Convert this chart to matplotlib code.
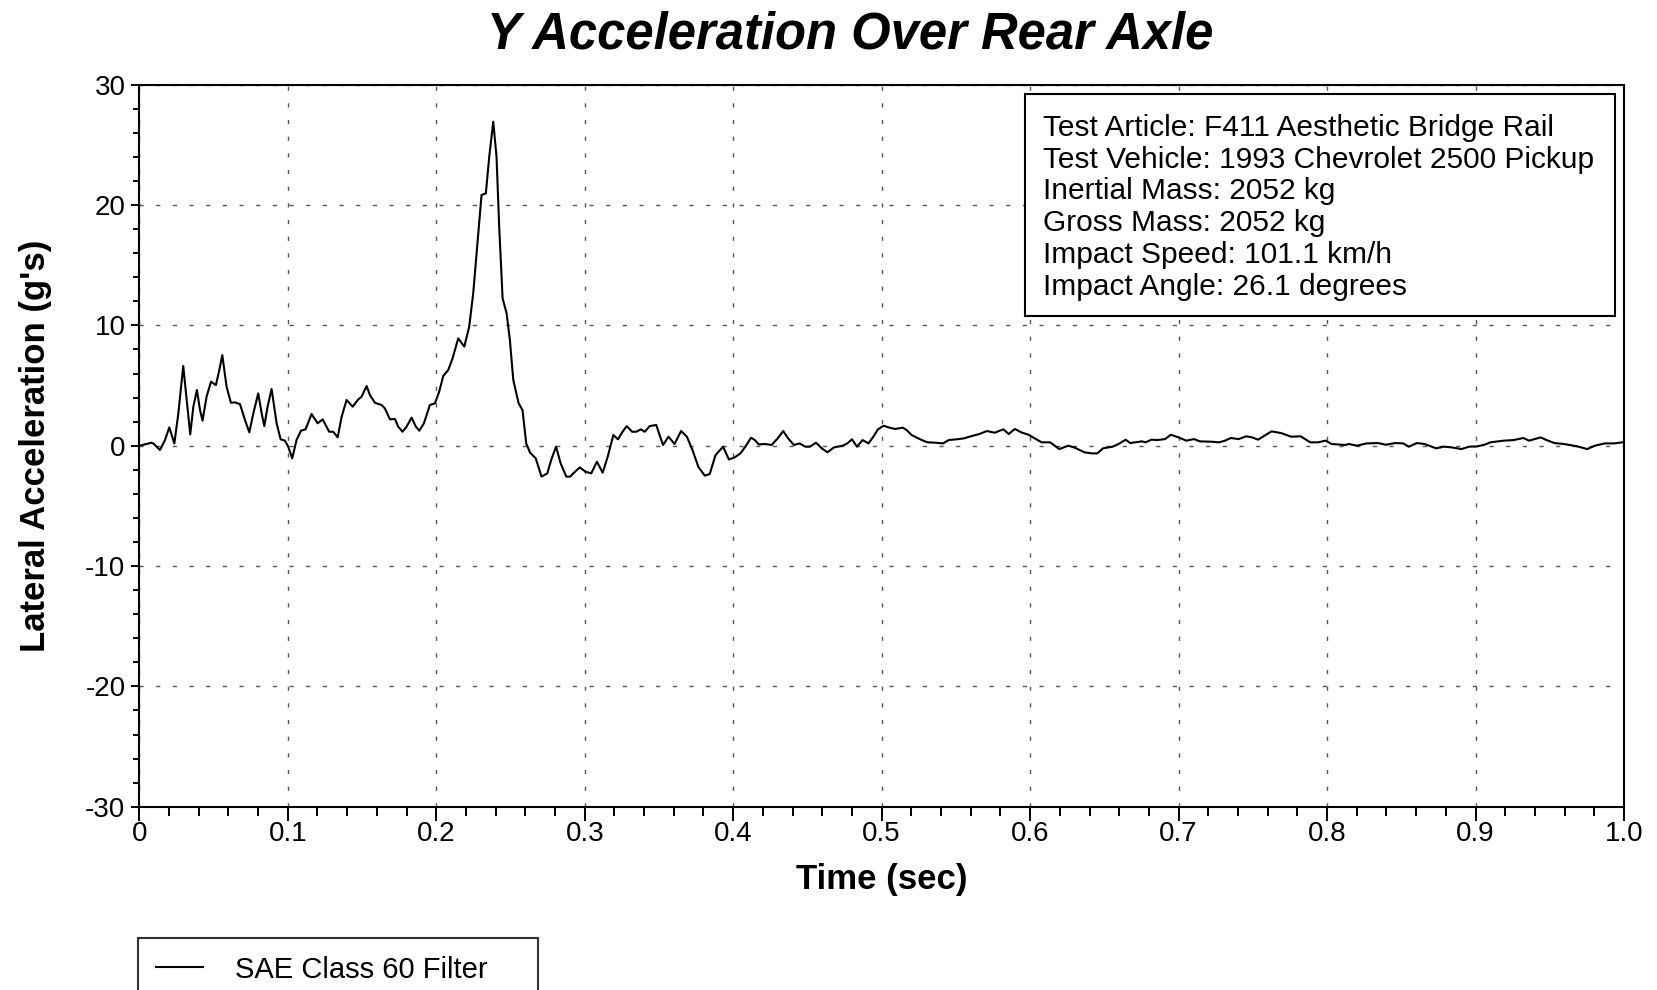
import numpy as np
import matplotlib
matplotlib.use("Agg")
import matplotlib.pyplot as plt
from matplotlib.patches import Rectangle
from matplotlib.ticker import MultipleLocator, FixedLocator, FixedFormatter

# --- Data (time in s, lateral accel in g's) ---
time_s = [
    0.0000, 0.0038, 0.0083, 0.0099, 0.0139, 0.0173, 0.0202, 0.0236, 0.0263, 0.0296,
    0.0319, 0.0343, 0.0364, 0.0388, 0.0409, 0.0426, 0.0453, 0.0483, 0.0516, 0.0539,
    0.0559, 0.0588, 0.0617, 0.0644, 0.0678, 0.0712, 0.0741, 0.0768, 0.0801, 0.0824,
    0.0842, 0.0864, 0.0891, 0.0925, 0.0952, 0.0981, 0.1003, 0.1030, 0.1059, 0.1089,
    0.1120, 0.1160, 0.1201, 0.1235, 0.1279, 0.1306, 0.1336, 0.1363, 0.1396, 0.1437,
    0.1475, 0.1497, 0.1531, 0.1553, 0.1587, 0.1632, 0.1654, 0.1688, 0.1722, 0.1744,
    0.1773, 0.1800, 0.1834, 0.1863, 0.1886, 0.1917, 0.1957, 0.1991, 0.2020, 0.2047,
    0.2081, 0.2110, 0.2148, 0.2189, 0.2222, 0.2249, 0.2272, 0.2305, 0.2334, 0.2357,
    0.2384, 0.2406, 0.2424, 0.2447, 0.2474, 0.2496, 0.2519, 0.2555, 0.2581, 0.2606,
    0.2632, 0.2670, 0.2709, 0.2748, 0.2774, 0.2807, 0.2838, 0.2876, 0.2902, 0.2928,
    0.2967, 0.3005, 0.3044, 0.3082, 0.3121, 0.3155, 0.3193, 0.3224, 0.3255, 0.3283,
    0.3319, 0.3347, 0.3379, 0.3404, 0.3438, 0.3482, 0.3508, 0.3528, 0.3564, 0.3605,
    0.3649, 0.3688, 0.3726, 0.3765, 0.3809, 0.3842, 0.3881, 0.3932, 0.3971, 0.4010,
    0.4049, 0.4082, 0.4120, 0.4146, 0.4172, 0.4215, 0.4259, 0.4300, 0.4337, 0.4370,
    0.4409, 0.4447, 0.4486, 0.4517, 0.4558, 0.4597, 0.4635, 0.4679, 0.4738, 0.4769,
    0.4800, 0.4834, 0.4872, 0.4911, 0.4944, 0.4975, 0.5014, 0.5052, 0.5091, 0.5143,
    0.5168, 0.5202, 0.5246, 0.5285, 0.5310, 0.5362, 0.5413, 0.5452, 0.5504, 0.5555,
    0.5606, 0.5658, 0.5709, 0.5761, 0.5820, 0.5856, 0.5897, 0.5941, 0.5993, 0.6031,
    0.6078, 0.6135, 0.6196, 0.6257, 0.6296, 0.6366, 0.6417, 0.6452, 0.6491, 0.6556,
    0.6596, 0.6643, 0.6674, 0.6752, 0.6778, 0.6817, 0.6857, 0.6909, 0.6948, 0.7000,
    0.7052, 0.7104, 0.7143, 0.7222, 0.7274, 0.7313, 0.7352, 0.7404, 0.7457, 0.7496,
    0.7535, 0.7626, 0.7691, 0.7757, 0.7822, 0.7887, 0.7939, 0.7991, 0.8030, 0.8122,
    0.8148, 0.8200, 0.8265, 0.8343, 0.8396, 0.8460, 0.8513, 0.8552, 0.8604, 0.8657,
    0.8735, 0.8787, 0.8839, 0.8905, 0.8957, 0.9009, 0.9061, 0.9100, 0.9191, 0.9257,
    0.9322, 0.9361, 0.9439, 0.9478, 0.9531, 0.9596, 0.9687, 0.9752, 0.9804, 0.9870,
    0.9935, 0.9987, 1.0000,
]
accel_g = [
    0.00, 0.11, 0.25, 0.14, -0.36, 0.47, 1.52, 0.19, 2.69, 6.62,
    3.80, 0.94, 3.24, 4.63, 2.96, 2.08, 4.07, 5.32, 5.04, 6.29,
    7.53, 4.90, 3.57, 3.60, 3.46, 2.13, 1.11, 2.69, 4.35, 2.69,
    1.63, 3.24, 4.71, 1.86, 0.53, 0.42, -0.08, -1.05, 0.47, 1.25,
    1.36, 2.63, 1.86, 2.19, 1.16, 1.16, 0.69, 2.41, 3.80, 3.24,
    3.85, 4.07, 4.96, 4.21, 3.57, 3.38, 3.10, 2.19, 2.22, 1.58,
    1.16, 1.58, 2.33, 1.58, 1.25, 1.86, 3.38, 3.52, 4.49, 5.79,
    6.29, 7.26, 8.92, 8.23, 9.89, 12.66, 15.98, 20.83, 20.97, 24.02,
    26.93, 24.02, 18.20, 12.24, 11.00, 8.78, 5.46, 3.52, 2.96, 0.19,
    -0.58, -1.05, -2.57, -2.30, -1.19, -0.08, -1.47, -2.57, -2.57, -2.24,
    -1.80, -2.16, -2.30, -1.33, -2.24, -0.91, 0.89, 0.53, 1.16, 1.63,
    1.16, 1.16, 1.36, 1.16, 1.63, 1.72, 0.75, 0.06, 0.75, 0.14,
    1.22, 0.75, -0.36, -1.75, -2.49, -2.35, -0.78, -0.08, -1.14, -0.97,
    -0.64, -0.08, 0.66, 0.47, 0.11, 0.14, 0.06, 0.61, 1.22, 0.61,
    0.06, 0.19, -0.08, -0.08, 0.25, -0.22, -0.55, -0.14, 0.00, 0.19,
    0.53, -0.08, 0.47, 0.19, 0.75, 1.36, 1.66, 1.50, 1.39, 1.50,
    1.30, 0.89, 0.61, 0.39, 0.28, 0.25, 0.19, 0.47, 0.53, 0.61,
    0.80, 0.97, 1.22, 1.08, 1.36, 0.97, 1.39, 1.11, 0.89, 0.61,
    0.28, 0.28, -0.28, 0.00, -0.14, -0.55, -0.64, -0.64, -0.22, -0.08,
    0.14, 0.50, 0.22, 0.36, 0.28, 0.50, 0.47, 0.55, 0.91, 0.69,
    0.42, 0.55, 0.36, 0.33, 0.28, 0.42, 0.64, 0.55, 0.78, 0.69,
    0.50, 1.19, 1.05, 0.75, 0.78, 0.28, 0.28, 0.42, 0.14, 0.06,
    0.14, 0.00, 0.19, 0.22, 0.08, 0.22, 0.19, -0.08, 0.22, 0.14,
    -0.22, -0.08, -0.14, -0.28, -0.08, -0.06, 0.08, 0.28, 0.42, 0.47,
    0.64, 0.42, 0.69, 0.47, 0.22, 0.14, -0.06, -0.28, 0.00, 0.19,
    0.19, 0.28, 0.30,
]

x_ticks = [0.0, 0.1, 0.2, 0.3, 0.4, 0.5, 0.6, 0.7, 0.8, 0.9, 1.0]
x_tick_labels = ["0", "0.1", "0.2", "0.3", "0.4", "0.5", "0.6", "0.7", "0.8", "0.9", "1.0"]
y_ticks = [-30, -20, -10, 0, 10, 20, 30]
y_tick_labels = ["-30", "-20", "-10", "0", "10", "20", "30"]

info_lines = [
    "Test Article: F411 Aesthetic Bridge Rail",
    "Test Vehicle: 1993 Chevrolet 2500 Pickup",
    "Inertial Mass: 2052 kg",
    "Gross Mass: 2052 kg",
    "Impact Speed: 101.1 km/h",
    "Impact Angle: 26.1 degrees",
]
series_label = "SAE Class 60 Filter"
title = "Y Acceleration Over Rear Axle"

W, H = 1658, 990
plt.rcParams["font.family"] = ["Liberation Sans", "DejaVu Sans"]

fig = plt.figure(figsize=(W / 100, H / 100), dpi=100)
ax = fig.add_axes([139.3 / W, 1 - 806.7 / H, (1624 - 139.3) / W, (806.7 - 84.7) / H])

line, = ax.plot(time_s, accel_g, color="black", linewidth=1.5, label=series_label, zorder=3)

ax.set_xlim(0, 1.0)
ax.set_ylim(-30, 30)
ax.xaxis.set_major_locator(FixedLocator(x_ticks))
ax.xaxis.set_major_formatter(FixedFormatter(x_tick_labels))
ax.xaxis.set_minor_locator(MultipleLocator(0.02))
ax.yaxis.set_major_locator(FixedLocator(y_ticks))
ax.yaxis.set_major_formatter(FixedFormatter(y_tick_labels))
ax.yaxis.set_minor_locator(MultipleLocator(2))

ax.tick_params(axis="x", which="major", direction="out", length=10, width=1.4,
               labelsize=20, pad=0.5)
ax.tick_params(axis="x", which="minor", direction="out", length=6.5, width=1.4)
ax.tick_params(axis="y", which="major", direction="out", length=6, width=1.4,
               labelsize=20, pad=4)
ax.tick_params(axis="y", which="minor", direction="out", length=4.5, width=1.4)
for sp in ax.spines.values():
    sp.set_linewidth(1.5)

ax.grid(True, which="major", color="#555555", linestyle=(0, (3, 9)), linewidth=1.0)

ax.set_xlabel("Time (sec)", fontsize=25, fontweight="bold", labelpad=11)
ax.set_ylabel("Lateral Acceleration (g's)", fontsize=25, fontweight="bold", labelpad=24)

fig.text(850 / W, 1 - 34.5 / H, title, ha="center", va="center",
         fontsize=36.5, fontweight="bold", fontstyle="italic")

# info box
bx0, bx1, by0, by1 = 1024.6, 1614.6, 94, 316
fig.patches.append(Rectangle((bx0 / W, 1 - by1 / H), (bx1 - bx0) / W, (by1 - by0) / H,
                             transform=fig.transFigure, facecolor="white",
                             edgecolor="black", linewidth=1.5, zorder=5))
fig.text(1042.6 / W, 1 - 114 / H, "\n".join(info_lines), ha="left", va="top",
         fontsize=21.5, linespacing=1.17, zorder=6)

leg = fig.legend(handles=[line], loc="upper left",
                 bbox_to_anchor=(138.5 / W, 1 - 938 / H, (538 - 138.5) / W, 0.0),
                 mode="expand", fontsize=21, frameon=True, fancybox=False,
                 edgecolor="black", borderpad=0.6, handlelength=1.6,
                 handletextpad=1.1, borderaxespad=0)
leg.get_frame().set_linewidth(1.5)

fig.savefig("out.png", dpi=100)
